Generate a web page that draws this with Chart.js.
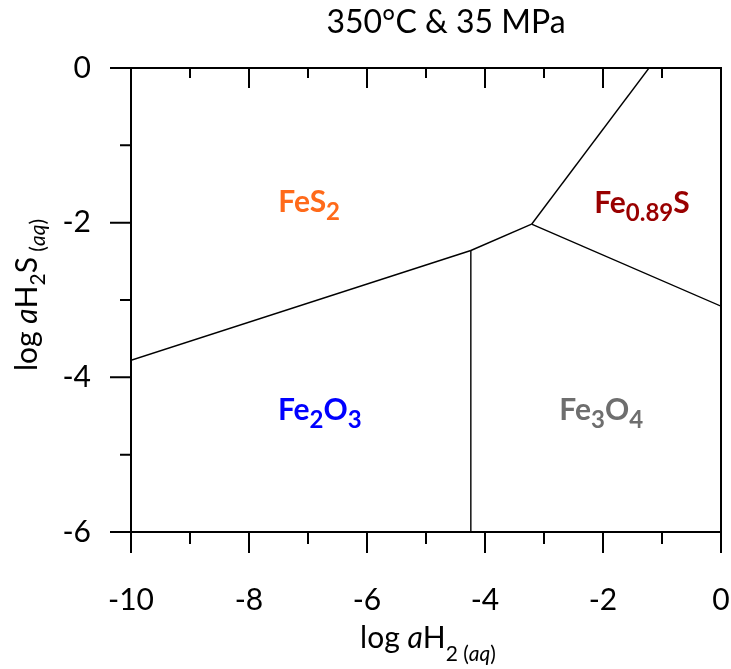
<!DOCTYPE html>
<html><head><meta charset="utf-8">
<script src="https://cdn.jsdelivr.net/npm/chart.js@4/dist/chart.umd.min.js"></script>
<style>html,body{margin:0;padding:0;background:#fff}#wrap{width:731px;height:669px;position:relative}</style>
</head><body><div id="wrap"><canvas id="c"></canvas></div>
<script>
// ---- data ----
const chartTitle = '350°C & 35 MPa';
const xTicks = [-10, -8, -6, -4, -2, 0];
const yTicks = [0, -2, -4, -6];
const hematitePyriteX = [-10, -4.24];
const hematitePyriteY = [-3.78, -2.36];
const magnetitePyriteX = [-4.24, -3.21];
const magnetitePyriteY = [-2.36, -2.02];
const hematiteMagnetiteX = [-4.24, -4.24];
const hematiteMagnetiteY = [-2.36, -6];
const pyritePyrrhotiteX = [-3.21, -1.22];
const pyritePyrrhotiteY = [-2.02, 0];
const magnetitePyrrhotiteX = [-3.21, 0];
const magnetitePyrrhotiteY = [-2.02, -3.08];
const fieldNames = ['FeS2', 'Fe0.89S', 'Fe2O3', 'Fe3O4'];
const fieldX = [-6.98, -1.34, -6.80, -2.03];
const fieldY = [-1.86, -1.87, -4.55, -4.55];
const fieldColors = ['#FF6A1A', '#990000', '#0000FF', '#6E6E6E'];

const FONT = 'Lato, "Open Sans", sans-serif';

function pts(xs, ys) { return xs.map((x, i) => ({x: x, y: ys[i]})); }
function lineDs(xs, ys) {
  return {data: pts(xs, ys), showLine: true, borderColor: '#000', borderWidth: 1.4,
          pointRadius: 0, fill: false, tension: 0};
}

function drawRuns(ctx, runs, x, y) {
  let total = 0;
  runs.forEach(r => { ctx.font = r.font; r.w = ctx.measureText(r.t).width; total += r.w; });
  let cx = x - total / 2;
  ctx.textAlign = 'left';
  ctx.textBaseline = 'alphabetic';
  runs.forEach(r => { ctx.font = r.font; ctx.fillStyle = r.color || '#000'; ctx.fillText(r.t, cx, y + (r.dy || 0)); cx += r.w; });
}

function formulaRuns(name, color) {
  const parts = name.split(/(\d+(?:\.\d+)?)/).filter(s => s.length);
  return parts.map(p => /^\d/.test(p)
    ? {t: p, font: 'bold 24px ' + FONT, dy: 8, color: color}
    : {t: p, font: 'bold 30px ' + FONT, dy: 0, color: color});
}

const decor = {
  id: 'decor',
  afterDatasetsDraw(chart) {
    const ctx = chart.ctx, xs = chart.scales.x, ys = chart.scales.y, a = chart.chartArea;
    ctx.save();
    // field labels
    fieldNames.forEach((n, i) => {
      drawRuns(ctx, formulaRuns(n, fieldColors[i]), xs.getPixelForValue(fieldX[i]), ys.getPixelForValue(fieldY[i]));
    });
    // frame
    ctx.strokeStyle = '#000'; ctx.lineWidth = 2; ctx.lineCap = 'butt';
    ctx.beginPath();
    ctx.moveTo(a.left, a.top); ctx.lineTo(a.right, a.top);
    ctx.lineTo(a.right, a.bottom); ctx.lineTo(a.left, a.bottom); ctx.closePath();
    ctx.stroke();
    // ticks
    ctx.beginPath();
    for (let v = xs.min; v <= xs.max + 1e-9; v += 1) {
      const px = xs.getPixelForValue(v);
      const major = Math.round(v) % 2 === 0;
      ctx.moveTo(px, a.bottom); ctx.lineTo(px, a.bottom + (major ? 21 : 12));
      ctx.moveTo(px, a.top); ctx.lineTo(px, a.top + (major ? 20 : 10));
    }
    for (let v = ys.min; v <= ys.max + 1e-9; v += 1) {
      const py = ys.getPixelForValue(v);
      const major = Math.round(v) % 2 === 0;
      ctx.moveTo(a.left, py); ctx.lineTo(a.left - (major ? 21 : 11), py);
    }
    ctx.stroke();
    // title
    ctx.fillStyle = '#000';
    ctx.font = '32px ' + FONT; ctx.textAlign = 'center'; ctx.textBaseline = 'alphabetic';
    ctx.fillText(chartTitle, 446, 33);
    // x axis title
    drawRuns(ctx, [
      {t: 'log ', font: '30px ' + FONT},
      {t: 'a', font: 'italic 30px ' + FONT},
      {t: 'H', font: '30px ' + FONT},
      {t: '2 (', font: '21px ' + FONT, dy: 13},
      {t: 'aq', font: 'italic 21px ' + FONT, dy: 13},
      {t: ')', font: '21px ' + FONT, dy: 13}
    ], 428, 648);
    // y axis title
    ctx.translate(37, 295); ctx.rotate(-Math.PI / 2);
    drawRuns(ctx, [
      {t: 'log ', font: '30px ' + FONT},
      {t: 'a', font: 'italic 30px ' + FONT},
      {t: 'H', font: '30px ' + FONT},
      {t: '2', font: '21px ' + FONT, dy: 8},
      {t: 'S', font: '30px ' + FONT},
      {t: ' (', font: '21px ' + FONT, dy: 8},
      {t: 'aq', font: 'italic 21px ' + FONT, dy: 8},
      {t: ')', font: '21px ' + FONT, dy: 8}
    ], 0, 0);
    ctx.restore();
  }
};

new Chart(document.getElementById('c'), {
  type: 'scatter',
  data: {datasets: [
    lineDs(hematitePyriteX, hematitePyriteY),
    lineDs(magnetitePyriteX, magnetitePyriteY),
    lineDs(hematiteMagnetiteX, hematiteMagnetiteY),
    lineDs(pyritePyrrhotiteX, pyritePyrrhotiteY),
    lineDs(magnetitePyrrhotiteX, magnetitePyrrhotiteY)
  ]},
  options: {
    responsive: true, maintainAspectRatio: false, animation: false,
    layout: {padding: {left: 0, right: 10, top: 68, bottom: 0}},
    plugins: {legend: {display: false}, tooltip: {enabled: false}, title: {display: false}},
    scales: {
      x: {type: 'linear', position: 'bottom', min: -10, max: 0,
          grid: {display: false, drawTicks: false}, border: {display: false},
          afterBuildTicks: s => { s.ticks = xTicks.map(v => ({value: v})); },
          afterFit: s => { s.height = 137; s.paddingLeft = 0; s.paddingRight = 0; },
          ticks: {color: '#000', font: {family: FONT, size: 30}, padding: 50, maxRotation: 0}},
      y: {type: 'linear', position: 'left', min: -6, max: 0,
          grid: {display: false, drawTicks: false}, border: {display: false},
          afterBuildTicks: s => { s.ticks = yTicks.map(v => ({value: v})); },
          afterFit: s => { s.width = 131; s.paddingTop = 0; s.paddingBottom = 0; },
          ticks: {color: '#000', font: {family: FONT, size: 30}, padding: 40}}
    }
  },
  plugins: [decor]
});
</script></body></html>
